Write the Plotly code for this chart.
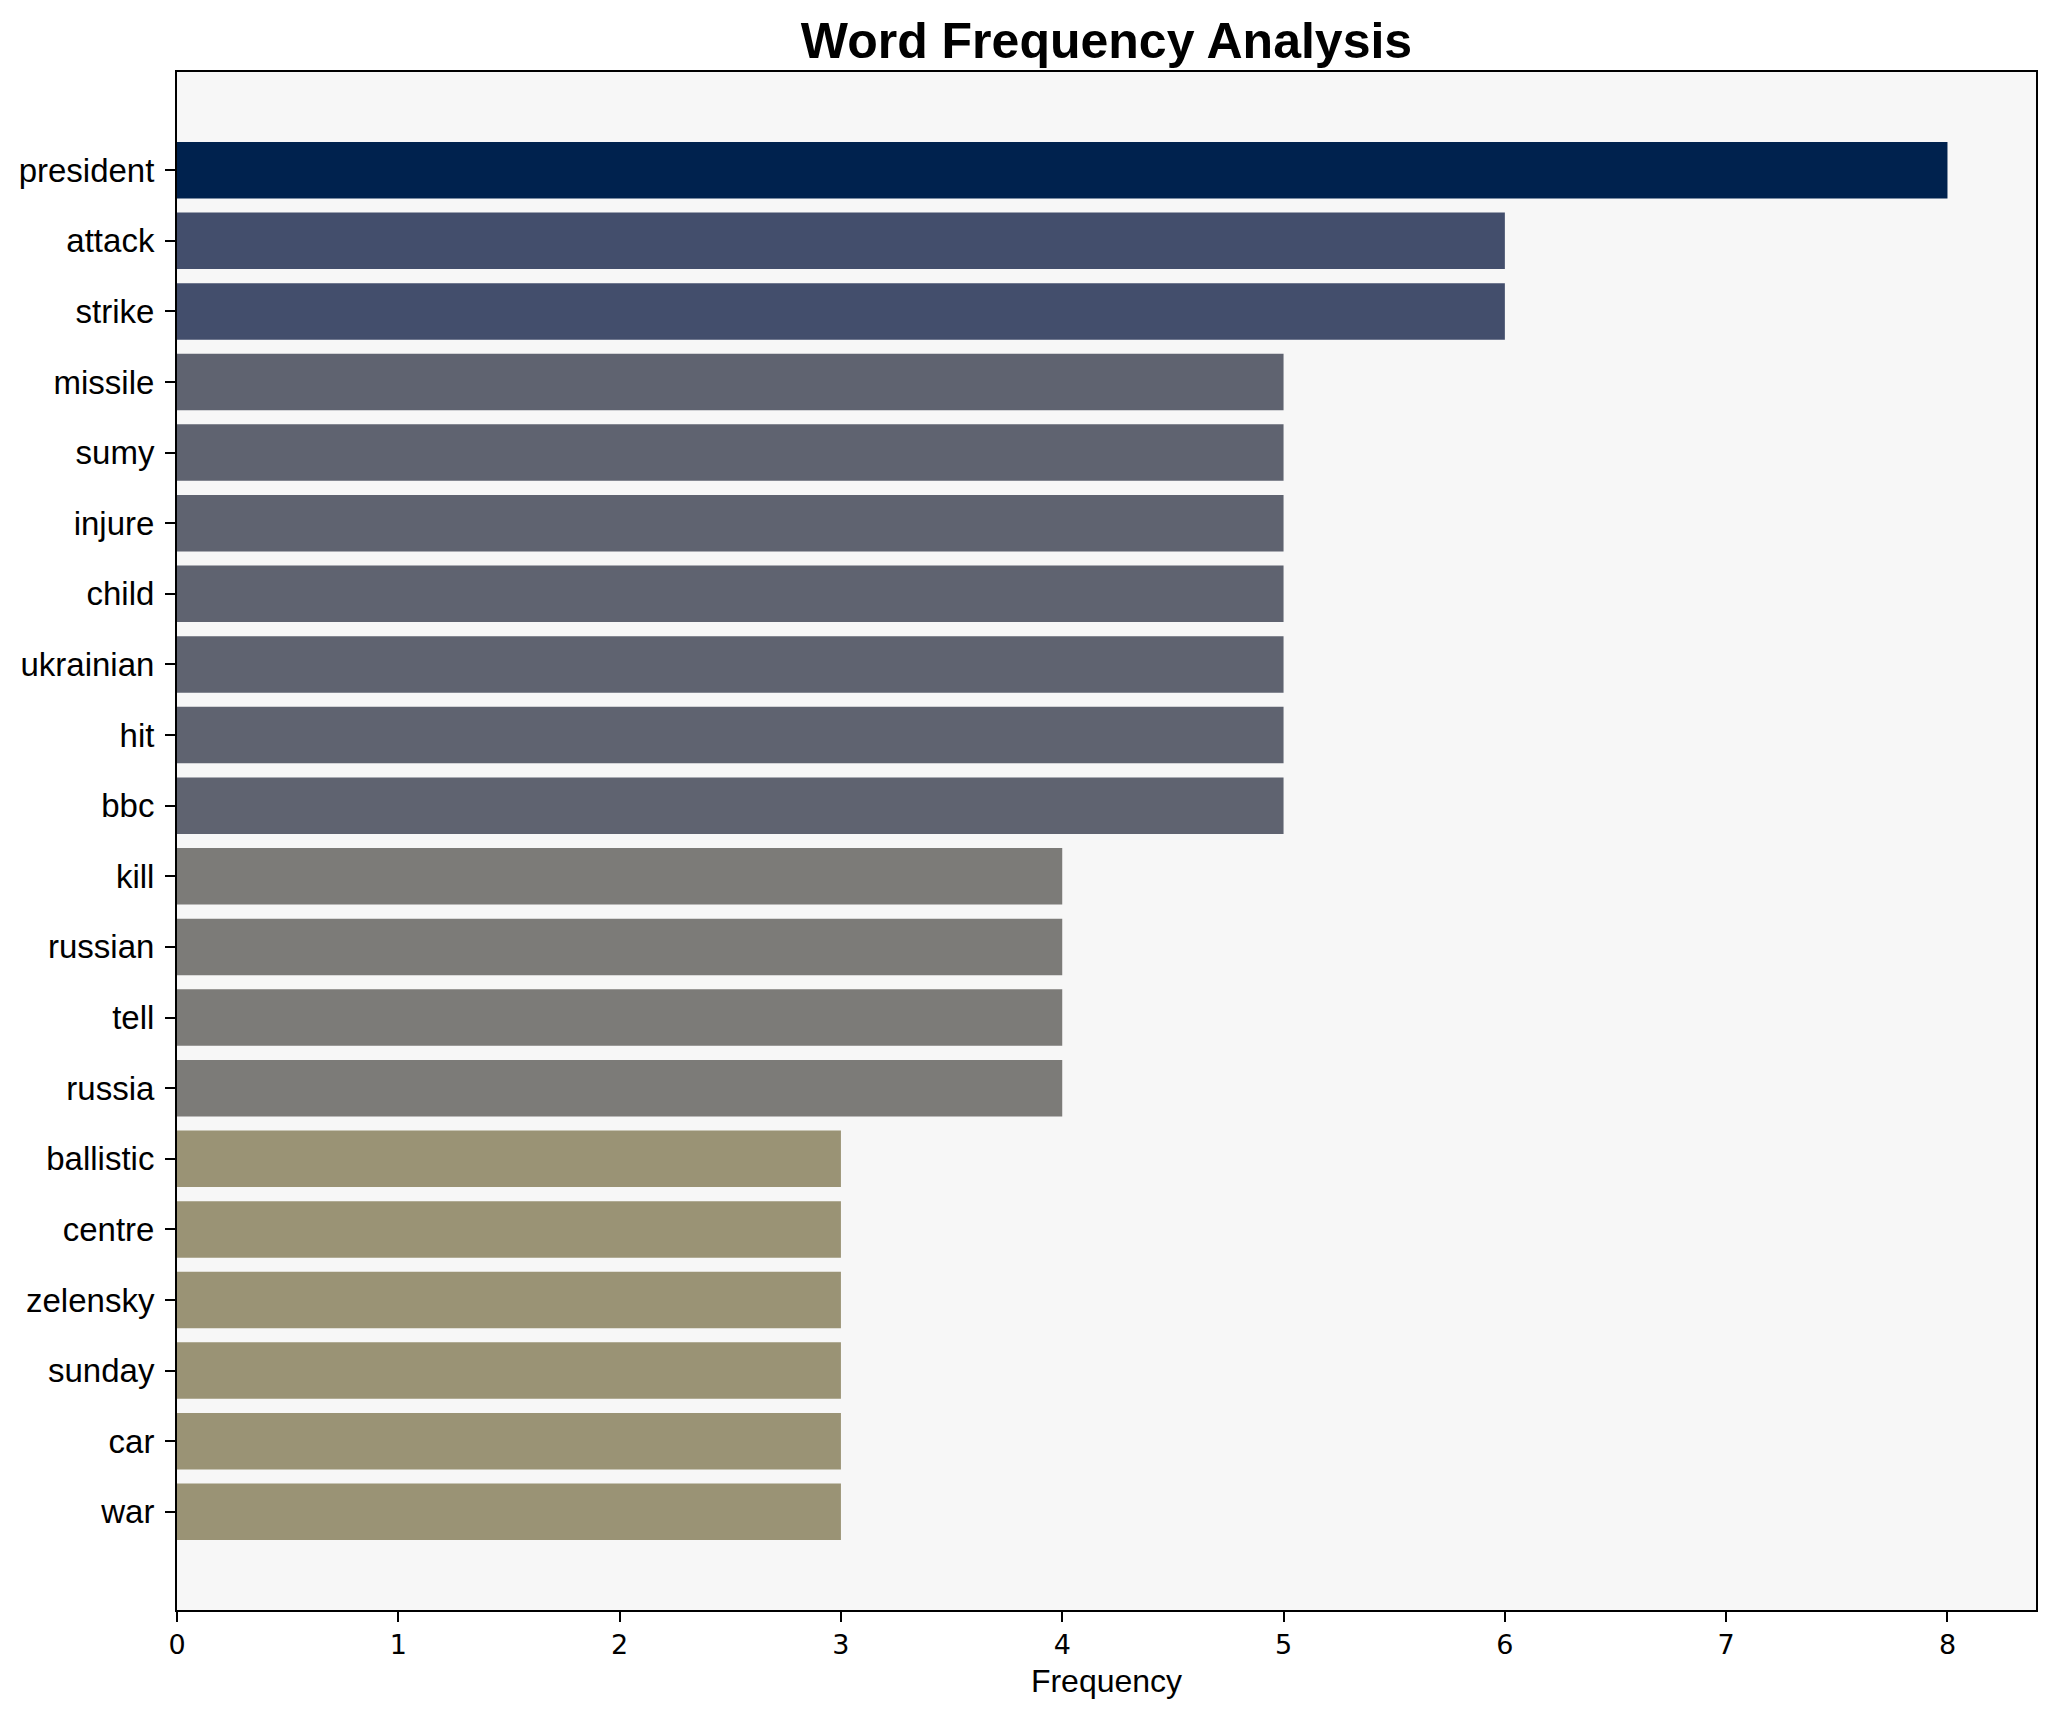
import plotly.graph_objects as go

words = ["president", "attack", "strike", "missile", "sumy", "injure", "child",
         "ukrainian", "hit", "bbc", "kill", "russian", "tell", "russia",
         "ballistic", "centre", "zelensky", "sunday", "car", "war"]
counts = [8, 6, 6, 5, 5, 5, 5, 5, 5, 5, 4, 4, 4, 4, 3, 3, 3, 3, 3, 3]

value_colors = {8: "#00224e", 6: "#434e6c", 5: "#5f6370", 4: "#7c7b78", 3: "#9a9375"}
bar_colors = [value_colors[c] for c in counts]

fig = go.Figure(go.Bar(
    x=counts, y=words, orientation="h", width=0.8,
    marker=dict(color=bar_colors, line=dict(width=0)),
))

n = len(words)
W, H = 2056, 1722
L, R, T, B = 169, 28, 64, 120
fig.update_layout(
    width=W, height=H,
    margin=dict(l=L, r=R, t=T, b=B, autoexpand=False),
    paper_bgcolor="white", plot_bgcolor="#f7f7f7",
    showlegend=False,
    title=dict(text="<b>Word Frequency Analysis</b>",
               x=(L + (W - R)) / 2 / W, xanchor="center", xref="container",
               y=1 - 32 / H, yanchor="middle", yref="container",
               font=dict(family="Liberation Sans, Arial", size=50, color="black")),
)
fig.update_xaxes(
    range=[0, 8.4], dtick=1, tick0=0, showgrid=False, zeroline=False,
    showline=True, linecolor="black", linewidth=2, mirror=True,
    ticks="outside", ticklen=10, tickwidth=2, tickcolor="black",
    tickfont=dict(family="DejaVu Sans", size=27, color="black"),
    title=dict(text="Frequency", standoff=10,
               font=dict(family="Liberation Sans, Arial", size=32, color="black")),
)
fig.update_yaxes(
    categoryorder="array", categoryarray=words,
    range=[n - 1 + 0.4 + 0.99, -0.4 - 0.99],
    showgrid=False, zeroline=False,
    showline=True, linecolor="black", linewidth=2, mirror=True,
    ticks="outside", ticklen=10, tickwidth=2, tickcolor="black",
    ticklabelstandoff=4,
    tickfont=dict(family="Liberation Sans, Arial", size=33, color="black"),
)

fig.write_html("out.html")
